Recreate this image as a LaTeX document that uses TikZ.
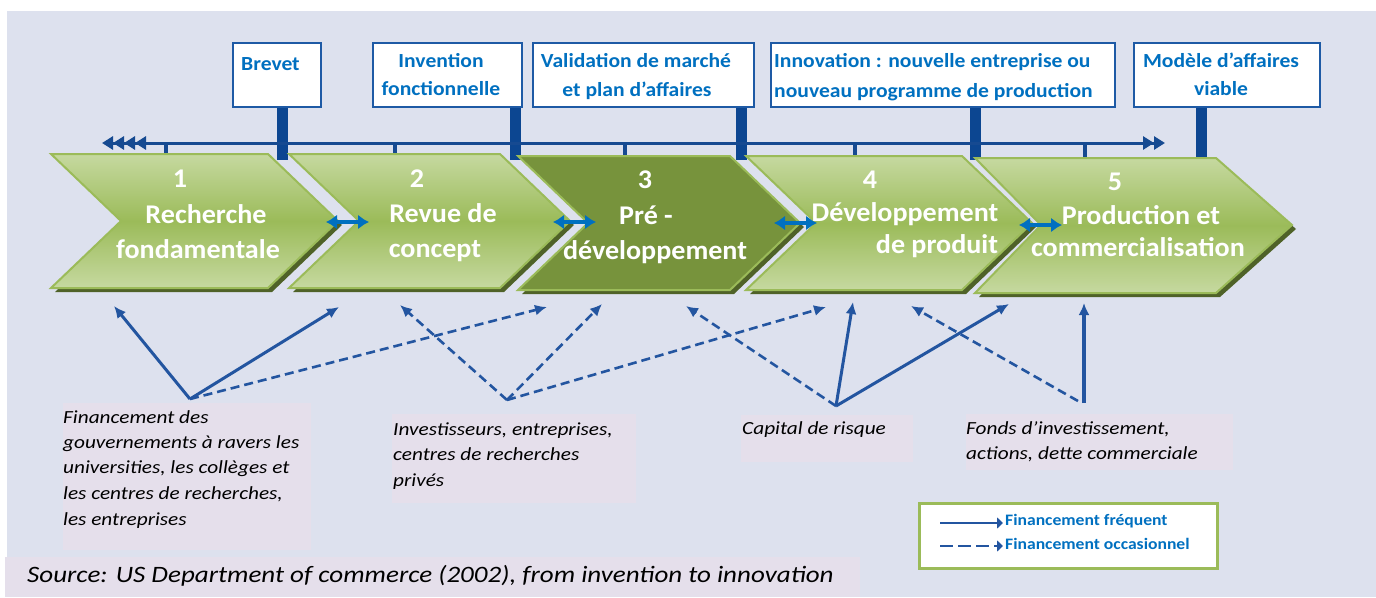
\documentclass[tikz,border=0pt]{standalone}
\usepackage{fontspec}
\setmainfont{Carlito}
\newfontfamily\itwide[FakeStretch=1.15, UprightFont=* Italic]{Carlito}
\newfontfamily\milewide[FakeStretch=1.08]{Carlito}
\newfontfamily\legwide[FakeStretch=1.1]{Carlito}
\newfontfamily\chevwide[FakeStretch=1.04]{Carlito}
\usetikzlibrary{arrows.meta}
\definecolor{bg}{RGB}{221,225,238}
\definecolor{pinkbox}{RGB}{229,223,235}
\definecolor{lgreen}{RGB}{198,217,160}
\definecolor{mgreen}{RGB}{155,187,89}
\definecolor{dgreen}{RGB}{119,147,60}
\definecolor{shgreen}{RGB}{79,98,40}
\definecolor{tlblue}{RGB}{22,74,145}
\definecolor{postblue}{RGB}{12,70,145}
\definecolor{boxblue}{RGB}{0,112,192}
\definecolor{fundblue}{RGB}{35,85,160}
\definecolor{frameblue}{RGB}{30,90,165}
\tikzset{
  chev/.style={draw=mgreen, line width=2pt, top color=lgreen, bottom color=lgreen, middle color=mgreen},
  chevdark/.style={draw=mgreen, line width=2pt, fill=dgreen},
  chevshadow/.style={fill=shgreen},
  chevtext/.style={text=white, font=\chevwide\fontsize{27}{33}\selectfont\bfseries, anchor=base, inner sep=0pt},
  milebox/.style={draw=frameblue, line width=2.5pt, fill=white, inner sep=0pt},
  miletext/.style={text=boxblue, font=\milewide\fontsize{20}{24}\selectfont\bfseries, inner sep=0pt},
  post/.style={draw=postblue, line width=11pt},
  tlmark/.style={draw=tlblue, line width=4pt},
  timeline/.style={draw=tlblue, line width=3pt},
  dblarrow/.style={draw=boxblue, line width=4pt, {Latex[length=11pt,width=15pt]}-{Latex[length=11pt,width=15pt]}},
  fundsolid/.style={draw=fundblue, line width=3pt, -{Latex[length=12pt,width=11pt]}},
  funddash/.style={draw=fundblue, line width=2.6pt, dash pattern=on 9pt off 5pt, -{Latex[length=12pt,width=11pt]}},
  srcbox/.style={fill=pinkbox, inner sep=0pt},
  srctext/.style={font=\itwide\fontsize{18.5}{22}\selectfont, anchor=base west, inner sep=0pt},
  legtext/.style={text=boxblue, font=\legwide\fontsize{16}{18}\selectfont\bfseries, anchor=base west, inner sep=0pt}
}
\begin{document}
\begin{tikzpicture}[x=1pt,y=-1pt]
\useasboundingbox (0,0) rectangle (1376,597);
\fill[white] (0,0) rectangle (1376,597);
\fill[bg] (7,11) rectangle (1376,597);

% milestone boxes
\node[milebox, minimum width=88pt, minimum height=64pt] (mb1) at (277,75) {};
\node[milebox, minimum width=149pt, minimum height=64pt] (mb2) at (447.5,75) {};
\node[milebox, minimum width=221pt, minimum height=64pt] (mb3) at (643.5,75) {};
\node[milebox, minimum width=344pt, minimum height=64pt] (mb4) at (943,75) {};
\node[milebox, minimum width=186pt, minimum height=64pt] (mb5) at (1227,75) {};

\node[miletext, anchor=base west] (t1) at (241,70) {Brevet};
\node[miletext, anchor=base] (t2a) at (441,67) {Invention};
\node[miletext, anchor=base] (t2b) at (441,95) {fonctionnelle};
\node[miletext, anchor=base] (t3a) at (636,67) {Validation de marché};
\node[miletext, anchor=base] (t3b) at (637,96) {et plan d’affaires};
\node[miletext, anchor=base west] (t4a) at (774,67) {Innovation : nouvelle entreprise ou};
\node[miletext, anchor=base west] (t4b) at (774,97) {nouveau programme de production};
\node[miletext, anchor=base] (t5a) at (1221,67) {Modèle d’affaires};
\node[miletext, anchor=base] (t5b) at (1221,95) {viable};

% posts
\coordinate (p1) at (282,160);
\coordinate (p2) at (515,160);
\coordinate (p3) at (741,160);
\coordinate (p4) at (975,160);
\coordinate (p5) at (1201,160);
\draw[post] (mb1.south -| p1) -- (p1);
\draw[post] (mb2.south -| p2) -- (p2);
\draw[post] (mb3.south -| p3) -- (p3);
\draw[post] (mb4.south -| p4) -- (p4);
\draw[post] (mb5.south -| p5) -- (p5);

% timeline
\coordinate (tlL) at (102,143);
\coordinate (tlR) at (1165,143);
\draw[timeline, {Triangle[length=11pt,width=13pt] Triangle[length=11pt,width=13pt] Triangle[length=11pt,width=13pt] Triangle[length=11pt,width=13pt]}-{Triangle[length=11pt,width=13pt] Triangle[length=11pt,width=13pt]}] (tlL) -- (tlR);
\foreach \x/\n in {166/k1,395/k2,625/k3,855/k4,1085/k5}{
  \coordinate (\n a) at (\x,143);
  \coordinate (\n b) at (\x,157);
  \draw[tlmark] (\n a) -- (\n b);
}

% chevron shadows
\fill[chevshadow] (55,158) -- (272,158) -- (342,225) -- (272,292) -- (55,292) -- (125,225) -- cycle;
\fill[chevshadow] (293,158) -- (504,158) -- (574,225) -- (504,292) -- (293,292) -- (363,225) -- cycle;
\fill[chevshadow] (522,160) -- (734,160) -- (804,227) -- (734,294) -- (522,294) -- (592,227) -- cycle;
\fill[chevshadow] (750,160) -- (966,160) -- (1036,227) -- (966,294) -- (750,294) -- (820,227) -- cycle;
\fill[chevshadow] (979,162) -- (1220,162) -- (1296,229) -- (1220,297) -- (979,297) -- (1045,229) -- cycle;

% chevrons
\path[chev] (51,154) -- (268,154) -- (338,221) -- (268,288) -- (51,288) -- (121,221) -- cycle;
\path[chev] (289,154) -- (500,154) -- (570,221) -- (500,288) -- (289,288) -- (359,221) -- cycle;
\path[chevdark] (518,156) -- (730,156) -- (800,223) -- (730,290) -- (518,290) -- (588,223) -- cycle;
\path[chev] (746,156) -- (962,156) -- (1032,223) -- (962,290) -- (746,290) -- (816,223) -- cycle;
\path[chev] (975,158) -- (1216,158) -- (1292,225) -- (1216,293) -- (975,293) -- (1041,225) -- cycle;

% chevron texts
\node[chevtext] (c1n) at (180,187) {1};
\node[chevtext] (c1a) at (206,223) {Recherche};
\node[chevtext] (c1b) at (198,258) {fondamentale};
\node[chevtext] (c2n) at (417,187) {2};
\node[chevtext] (c2a) at (443,222) {Revue de};
\node[chevtext] (c2b) at (435,257) {concept};
\node[chevtext] (c3n) at (645,188) {3};
\node[chevtext] (c3a) at (646,224) {Pré -};
\node[chevtext] (c3b) at (655,259) {développement};
\node[chevtext] (c4n) at (870,188) {4};
\node[chevtext] (c4a) at (905,221) {Développement};
\node[chevtext] (c4b) at (937,253) {de produit};
\node[chevtext] (c5n) at (1115,190) {5};
\node[chevtext] (c5a) at (1141,224) {Production et};
\node[chevtext] (c5b) at (1138,256) {commercialisation};

% double arrows between chevrons
\coordinate (d1L) at (326,222); \coordinate (d1R) at (369,222);
\coordinate (d2L) at (553,222); \coordinate (d2R) at (596,222);
\coordinate (d3L) at (774,223); \coordinate (d3R) at (817,223);
\coordinate (d4L) at (1019,225); \coordinate (d4R) at (1062,225);
\draw[dblarrow] (d1L) -- (d1R);
\draw[dblarrow] (d2L) -- (d2R);
\draw[dblarrow] (d3L) -- (d3R);
\draw[dblarrow] (d4L) -- (d4R);

% source boxes
\node[srcbox, anchor=north west, minimum width=248pt, minimum height=147pt] (sA) at (63,403) {};
\node[srcbox, anchor=north west, minimum width=244pt, minimum height=89pt] (sB) at (392,414) {};
\node[srcbox, anchor=north west, minimum width=172pt, minimum height=47pt] (sC) at (741,415) {};
\node[srcbox, anchor=north west, minimum width=267pt, minimum height=56pt] (sD) at (966,414) {};
\node[srcbox, anchor=north west, minimum width=855pt, minimum height=40pt] (sS) at (5,557) {};

\node[srctext] (ta1) at (63,423) {Financement des};
\node[srctext] (ta2) at (63,448) {gouvernements à ravers les};
\node[srctext] (ta3) at (63,473) {universities, les collèges et};
\node[srctext] (ta4) at (63,499) {les centres de recherches,};
\node[srctext] (ta5) at (63,525) {les entreprises};
\node[srctext] (tb1) at (393,435) {Investisseurs, entreprises,};
\node[srctext] (tb2) at (393,460) {centres de recherches};
\node[srctext] (tb3) at (393,486) {privés};
\node[srctext] (tc1) at (742,434) {Capital de risque};
\node[srctext] (td1) at (966,434) {Fonds d’investissement,};
\node[srctext] (td2) at (966,459) {actions, dette commerciale};
\node[srctext, font=\itwide\fontsize{23.5}{28}\selectfont] (ts) at (27,582) {Source: US Department of commerce (2002), from invention to innovation};

% funding arrows
\coordinate (A) at (190,399);
\coordinate (B) at (507,400);
\coordinate (C) at (836,406);
\coordinate (Dd) at (1078,401);
\coordinate (Ds) at (1084,403);
\coordinate (A1) at (114,306); \coordinate (A2) at (339,307); \coordinate (A3) at (547,307);
\coordinate (B1) at (400,305); \coordinate (B2) at (602,304); \coordinate (B3) at (826,307);
\coordinate (C1) at (686,306); \coordinate (C2) at (853,302); \coordinate (C3) at (1009,304);
\coordinate (D1) at (911,306); \coordinate (D2) at (1084,303);
\draw[fundsolid] (A) -- (A1);
\draw[fundsolid] (A) -- (A2);
\draw[funddash] (A) -- (A3);
\draw[funddash] (B) -- (B1);
\draw[funddash] (B) -- (B2);
\draw[funddash] (B) -- (B3);
\draw[funddash] (C) -- (C1);
\draw[fundsolid] (C) -- (C2);
\draw[fundsolid] (C) -- (C3);
\draw[funddash] (Dd) -- (D1);
\draw[fundsolid, line width=4pt] (Ds) -- (D2);

% legend
\node[draw=mgreen, line width=3pt, fill=white, anchor=north west, minimum width=298pt, minimum height=65pt, inner sep=0pt] (leg) at (918,502) {};
\coordinate (l1a) at (940,523); \coordinate (l1b) at (1003,523);
\coordinate (l2a) at (940,546); \coordinate (l2b) at (1003,546);
\draw[draw=fundblue, line width=2pt, -{Triangle[length=6pt,width=11pt]}] (l1a) -- (l1b);
\draw[draw=fundblue, line width=2.4pt, dash pattern=on 13pt off 5pt, -{Triangle[length=6pt,width=11pt]}] (l2a) -- (l2b);
\node[legtext] (lt1) at (1005,525) {Financement fréquent};
\node[legtext] (lt2) at (1005,549) {Financement occasionnel};
\end{tikzpicture}
\end{document}
